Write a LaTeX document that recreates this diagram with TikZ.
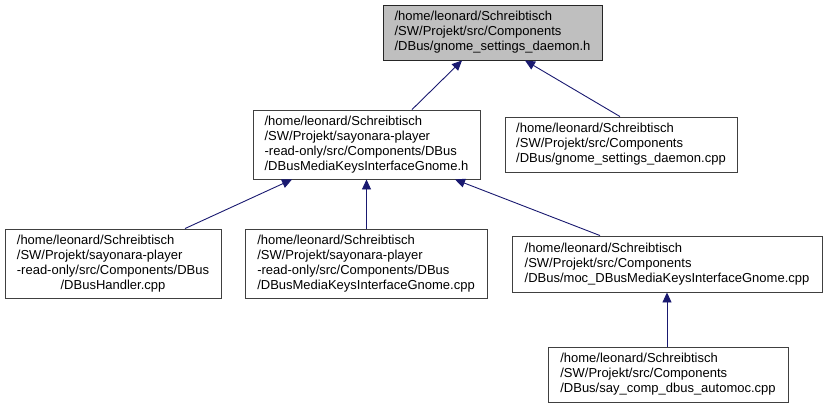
\documentclass[tikz,border=0pt]{standalone}
\usepackage{fontspec}
\setmainfont{Liberation Sans}
\usetikzlibrary{arrows.meta, positioning, calc}
\definecolor{midnight}{HTML}{191970}
\definecolor{boxline}{HTML}{404040}
\definecolor{curgray}{HTML}{BFBFBF}

\begin{document}
\begin{tikzpicture}[
  x=1pt, y=-1pt,
  >={Triangle[length=10pt, width=9pt]},
  incl/.style={<-, line width=0.9pt, midnight},
]

% =============================================
% Box styles
% =============================================
\tikzset{
  filebox/.style 2 args={
    draw=boxline, line width=0.9pt, fill=white,
    font=\fontsize{13}{15}\selectfont, text=black,
    align=left, inner sep=0pt,
    minimum width=#1, minimum height=#2,
  },
  curbox/.style 2 args={
    filebox={#1}{#2}, draw=black!85, fill=curgray,
  },
}

\useasboundingbox (0,0) rectangle (829,408);

% =============================================
% Top: the header itself
% =============================================
\node[curbox={219pt}{55pt}] (gsdh) at (492.5,32.5)
  {/home/leonard/Schreibtisch\\
   /SW/Projekt/src/Components\\
   /DBus/gnome\_settings\_daemon.h};

% =============================================
% Rank 2
% =============================================
\node[filebox={227pt}{69pt}] (mkih) at (366.5,144.5)
  {/home/leonard/Schreibtisch\\
   /SW/Projekt/sayonara-player\\
   -read-only/src/Components/DBus\\
   /DBusMediaKeysInterfaceGnome.h};

\node[filebox={232pt}{55pt}] (gsdcpp) at (621,144.5)
  {/home/leonard/Schreibtisch\\
   /SW/Projekt/src/Components\\
   /DBus/gnome\_settings\_daemon.cpp};

% =============================================
% Rank 3
% =============================================
\node[filebox={216pt}{69pt}] (handler) at (113,263.5)
  {\begin{tabular}{@{}l@{}}
   /home/leonard/Schreibtisch\\
   /SW/Projekt/sayonara-player\\
   -read-only/src/Components/DBus\\
   \multicolumn{1}{@{}c@{}}{/DBusHandler.cpp}
   \end{tabular}};

\node[filebox={242pt}{69pt}] (mkicpp) at (366,263.5)
  {/home/leonard/Schreibtisch\\
   /SW/Projekt/sayonara-player\\
   -read-only/src/Components/DBus\\
   /DBusMediaKeysInterfaceGnome.cpp};

\node[filebox={310pt}{56pt}] (moc) at (667,264)
  {/home/leonard/Schreibtisch\\
   /SW/Projekt/src/Components\\
   /DBus/moc\_DBusMediaKeysInterfaceGnome.cpp};

% =============================================
% Rank 4
% =============================================
\node[filebox={240pt}{55pt}] (automoc) at (668,374.5)
  {/home/leonard/Schreibtisch\\
   /SW/Projekt/src/Components\\
   /DBus/say\_comp\_dbus\_automoc.cpp};

% =============================================
% Include edges (arrow at the included file)
% =============================================
\draw[incl] ([xshift=-30.5pt]gsdh.south) -- ([xshift=45.5pt]mkih.north);
\draw[incl] ([xshift=32.5pt]gsdh.south) -- ([xshift=-1pt]gsdcpp.north);

\draw[incl] ([xshift=-74.5pt]mkih.south) -- ([xshift=72pt]handler.north);
\draw[incl] (mkih.south) -- (mkih.south |- mkicpp.north);
\draw[incl] ([xshift=88.5pt]mkih.south) -- ([xshift=-67pt]moc.north);

\draw[incl] (moc.south) -- (moc.south |- automoc.north);

\end{tikzpicture}
\end{document}
